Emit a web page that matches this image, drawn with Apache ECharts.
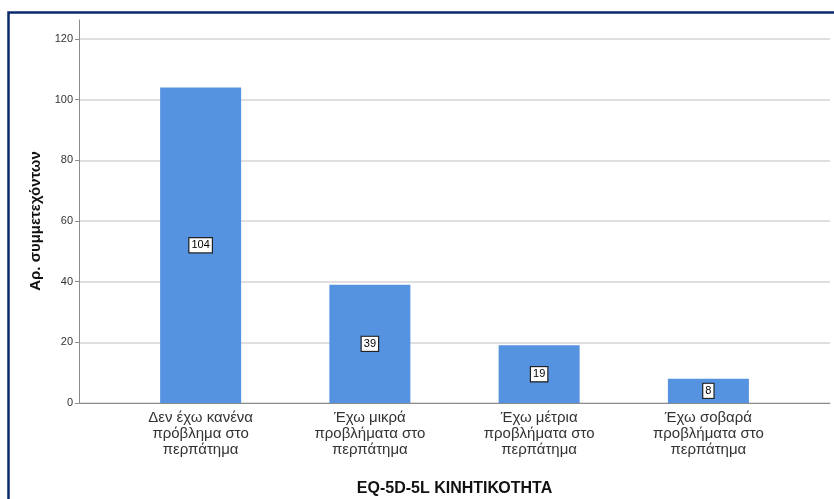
<!DOCTYPE html>
<html>
<head>
<meta charset="utf-8">
<script src="https://cdn.jsdelivr.net/npm/echarts@6/dist/echarts.min.js"></script>
<style>
  html, body { margin: 0; padding: 0; background: #fff; }
  #chart { width: 834px; height: 499px; }
</style>
</head>
<body>
<div id="chart"></div>
<script>
// categories of the walking dimension
const categories = [
  "Δεν έχω κανένα\nπρόβλημα στο\nπερπάτημα",
  "Έχω μικρά\nπροβλήματα στο\nπερπάτημα",
  "Έχω μέτρια\nπροβλήματα στο\nπερπάτημα",
  "Έχω σοβαρά\nπροβλήματα στο\nπερπάτημα"
];
// number of participants
const counts = [104, 39, 19, 8];
// y ticks
const yMin = 0;
const yMax = 120;
const yStep = 20;

const font = "Arial, 'Liberation Sans', sans-serif";
const axisGray = "#8c8c8c";

const chart = echarts.init(document.getElementById("chart"));
chart.setOption({
  backgroundColor: "#fff",
  animation: false,
  textStyle: { fontFamily: font },
  graphic: [
    {
      // frame around the chart
      type: "rect",
      left: 6, top: 10,
      shape: { width: 900, height: 600 },
      style: { fill: "none", stroke: "#0b2a6e", lineWidth: 2.5 },
      silent: true
    }
  ],
  grid: [
    { left: 79, right: 4, top: 39, bottom: 96, outerBoundsMode: "none" },   // axes + gridlines
    { left: 116, right: 41, top: 39, bottom: 96, outerBoundsMode: "none" }, // bars
    { left: 79, right: 4, top: 20, bottom: 96, outerBoundsMode: "none" }    // axis line extension
  ],
  xAxis: [
    {
      gridIndex: 0, type: "value", min: 0, max: 1,
      axisLine: { show: true, lineStyle: { color: axisGray, width: 1 } },
      axisTick: { show: false }, axisLabel: { show: false }, splitLine: { show: false }
    },
    {
      gridIndex: 1, type: "category", data: categories,
      axisLine: { show: false }, axisTick: { show: false },
      axisLabel: { color: "#333", fontSize: 15, lineHeight: 16, margin: 7, interval: 0 },
      name: "EQ-5D-5L ΚΙΝΗΤΙΚΟΤΗΤΑ",
      nameLocation: "middle", nameGap: 78,
      nameTextStyle: { color: "#111", fontSize: 16, fontWeight: "bold" }
    },
    {
      gridIndex: 2, type: "value", show: false
    }
  ],
  yAxis: [
    {
      gridIndex: 0, type: "value", min: yMin, max: yMax, interval: yStep,
      axisLine: { show: true, lineStyle: { color: axisGray, width: 1 } },
      axisTick: { show: true, length: 4, lineStyle: { color: axisGray } },
      axisLabel: { color: "#333", fontSize: 11, margin: 6 },
      splitLine: { show: true, lineStyle: { color: "#d4d4d4", width: 1.5 } },
      name: "Αρ. συμμετεχόντων",
      nameLocation: "middle", nameGap: 36, nameRotate: 90,
      nameTextStyle: { color: "#111", fontSize: 15, fontWeight: "bold" }
    },
    {
      gridIndex: 1, type: "value", min: yMin, max: yMax, show: false
    },
    {
      gridIndex: 2, type: "value", min: 0, max: 1,
      axisLine: { show: true, lineStyle: { color: axisGray, width: 1 } },
      axisTick: { show: false }, axisLabel: { show: false }, splitLine: { show: false }
    }
  ],
  series: [
    {
      type: "bar",
      xAxisIndex: 1, yAxisIndex: 1,
      data: counts,
      barWidth: 81,
      itemStyle: { color: "#5592e0" },
      label: {
        show: true,
        position: "inside",
        color: "#000",
        fontSize: 11,
        backgroundColor: "#fff",
        borderColor: "#222",
        borderWidth: 1.2,
        padding: [2, 2, 1, 2]
      }
    }
  ]
});
</script>
</body>
</html>
